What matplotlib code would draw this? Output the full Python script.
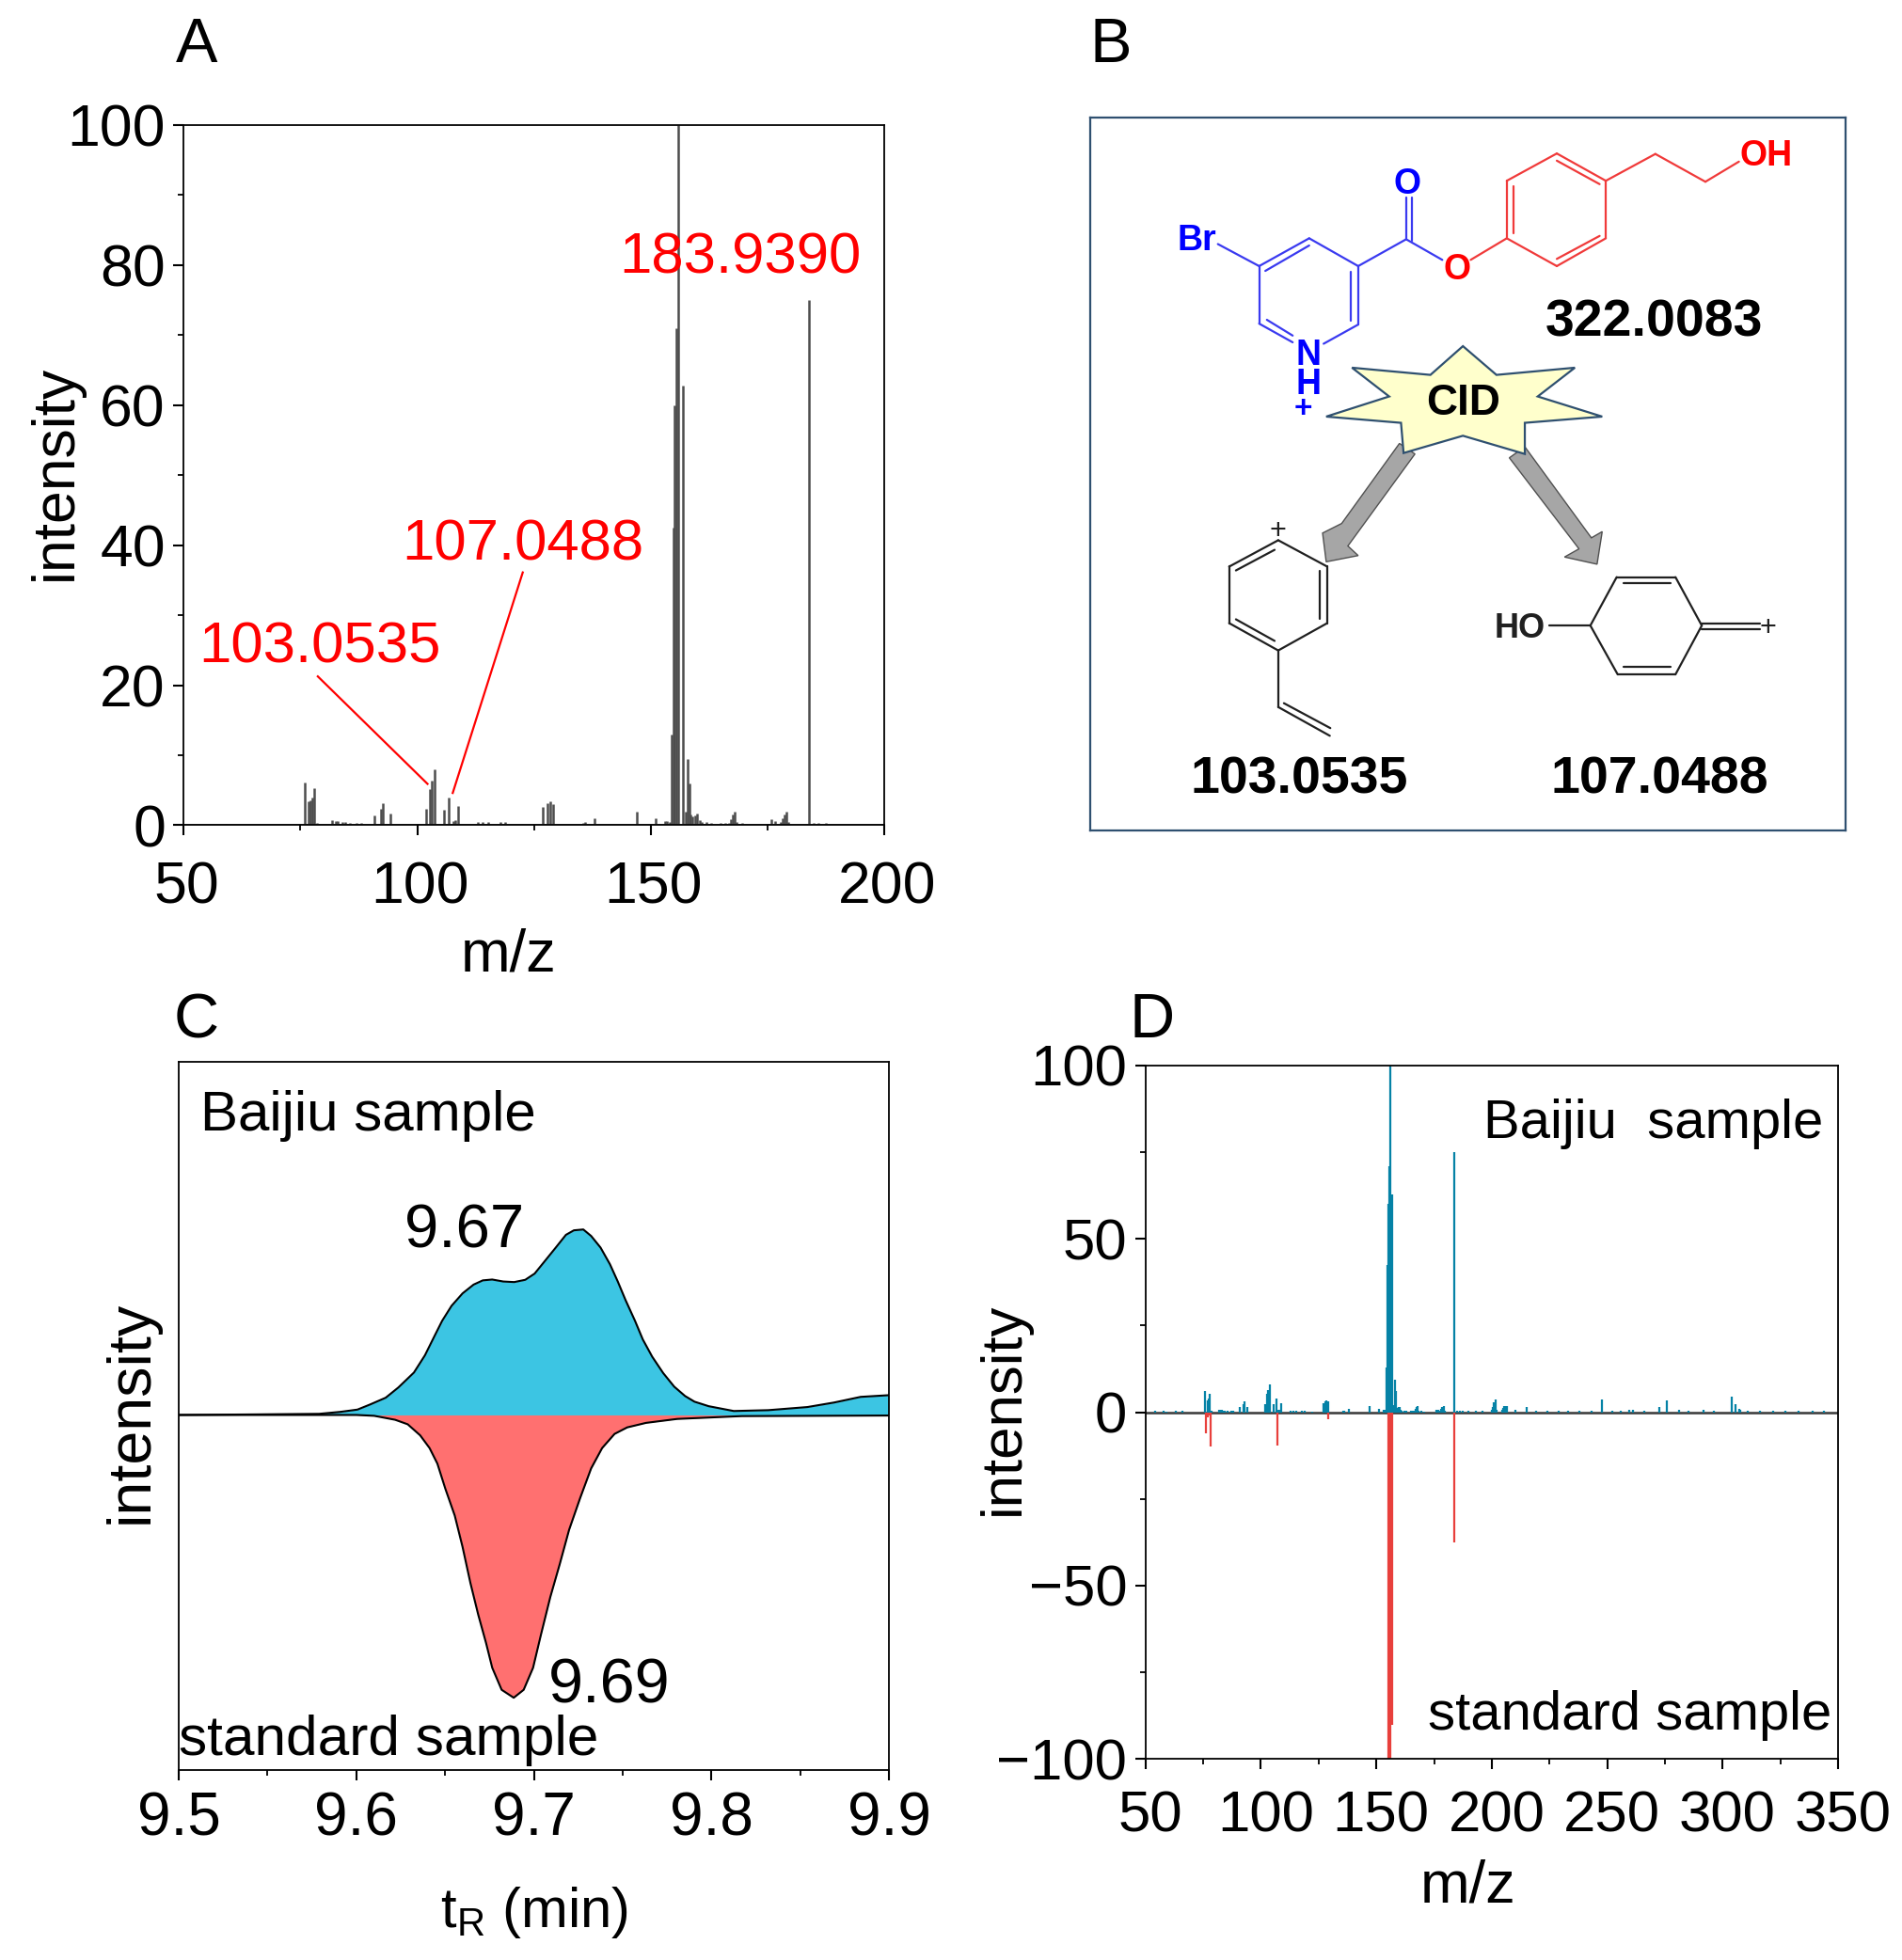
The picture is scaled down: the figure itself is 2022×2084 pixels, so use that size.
import matplotlib
matplotlib.use("Agg")
import matplotlib.pyplot as plt
from matplotlib.patches import Polygon
from matplotlib.ticker import FixedLocator
from matplotlib.transforms import ScaledTranslation

plt.rcParams["font.family"] = ["Liberation Sans", "DejaVu Sans"]
plt.rcParams["mathtext.fontset"] = "custom"
plt.rcParams["mathtext.rm"] = "Liberation Sans"
plt.rcParams["axes.linewidth"] = 1.3

# Spectrum of the Baijiu sample (m/z, relative intensity)
mz_low = [59, 75.95, 76.8, 77.2, 77.6, 77.9, 78.6, 81.8, 82.6, 83, 84, 84.5, 85.5, 87, 88,
          90.9, 92.3, 92.7, 94.2, 101.8, 102.8, 103.2, 103.8, 105.7, 106.8, 107.7, 108.2,
          108.8, 112.9, 114, 115.2, 117.8, 118.8, 122.4, 126.9, 127.9, 128.5, 129,
          135.5, 136, 138, 147.1, 151, 153, 153.5, 154]
int_low = [0.25, 6.1, 3.45, 3.5, 3.9, 5.3, 0.3, 0.7, 0.6, 0.6, 0.4, 0.4, 0.3, 0.3, 0.3,
           1.4, 2.4, 3.1, 1.6, 2.4, 5.2, 6.3, 8.0, 2.2, 4.0, 0.6, 0.7,
           2.7, 0.5, 0.4, 0.5, 0.4, 0.4, 0.2, 2.6, 3.1, 3.4, 3.0,
           0.3, 0.5, 1.0, 1.9, 1.0, 0.6, 0.6, 0.5]
mz_main = [154.5, 154.8, 155.1, 155.5, 155.9, 156.9, 157.6, 158.0, 158.3, 158.6, 159, 159.5,
           160, 160.5, 161, 162, 163, 165, 166]
int_main = [13, 42.5, 60, 71, 100, 62.8, 2, 9.4, 6, 1.5, 1.2, 1.4, 1.6, 0.7, 0.5, 0.4, 0.3, 0.3, 0.3]
mz_high = [166.8, 167.2, 167.6, 168, 168.3, 169.5, 170.5, 175.8, 176.6, 177.8, 178.2, 178.6,
           179.1, 179.5, 183.9, 185, 186, 187.5]
int_high = [0.3, 0.9, 1.5, 1.9, 0.5, 0.3, 0.2, 0.8, 0.6, 0.5, 1.0, 1.5, 1.9, 0.5, 75, 0.3, 0.3, 0.3]
mz_extra = [200, 200.5, 201, 201.8, 202.2, 204.5, 205, 205.5, 206, 206.7, 210, 215, 224, 247.5,
            259.5, 261, 272.6, 275.7, 281, 291.8, 303.7, 305.6, 307, 307.7]
int_extra = [0.8, 1.5, 2.8, 3.6, 0.6, 0.8, 1.2, 1.7, 1.9, 1.9, 0.6, 1.4, 0.5, 3.7,
             0.6, 0.6, 1.5, 3.3, 0.6, 0.6, 4.5, 2.2, 1.0, 0.8]
# small flecks along the baseline of panel D
mz_flecks = [54, 58, 63, 66, 190, 193, 196, 219, 229, 233, 238, 243, 252, 256, 266, 285, 296,
             311, 316, 322, 327, 333, 339, 344]
int_flecks = [0.3, 0.4, 0.3, 0.3, 0.3, 0.3, 0.4, 0.3, 0.3, 0.4, 0.3, 0.3, 0.3, 0.4, 0.3, 0.4, 0.3,
              0.3, 0.3, 0.4, 0.3, 0.3, 0.3, 0.3]

# Spectrum of the standard sample
mz_std = [76, 77, 77.5, 78.3, 107, 129, 155.1, 155.5, 155.9, 156.3, 156.9, 183.9]
int_std = [-6, -1.5, -1, -10, -9.6, -2, -100, -100, -100, -90, -90, -37.5]

# Chromatograms (panel C)
tr_baijiu = [9.5, 9.543, 9.579, 9.591, 9.6006, 9.6077, 9.6165, 9.6236, 9.6324, 9.6386, 9.6439, 9.6483,
             9.6536, 9.6598, 9.666, 9.6712, 9.6765, 9.6827, 9.6889, 9.6951, 9.7004, 9.7057, 9.7119,
             9.718, 9.7225, 9.7278, 9.7322, 9.7375, 9.7428, 9.7472, 9.7516, 9.7569, 9.7613, 9.7666,
             9.7728, 9.779, 9.7851, 9.7904, 9.7984, 9.8125, 9.832, 9.854, 9.869, 9.884, 9.9]
eic_baijiu = [0, 0.2, 0.4, 1.1, 1.9, 3.7, 6.1, 9.7, 15, 21.1, 27.8, 33.3,
              38.6, 43, 46.1, 47.6, 47.9, 47.2, 47, 47.8, 50, 54.1, 58.9,
              63.7, 65.3, 65.6, 63.3, 59.2, 53.3, 47.2, 40.6, 33.3, 26.7, 20.6,
              14.8, 10, 6.7, 4.7, 3.1, 1.4, 1.7, 2.8, 4.4, 6.4, 7]
tr_std = [9.5, 9.6, 9.61, 9.6218, 9.6289, 9.6359, 9.6412, 9.6456, 9.6501, 9.6554, 9.6598, 9.6642,
          9.6686, 9.673, 9.6765, 9.6818, 9.6886, 9.6942, 9.6995, 9.7039, 9.7092, 9.7145, 9.7198,
          9.726, 9.7322, 9.7384, 9.7454, 9.7525, 9.7631, 9.7807, 9.817, 9.9]
eic_std = [0, 0, -0.3, -1.7, -3.3, -7.2, -11.7, -17.2, -26.1, -35.6, -46.7, -59.4,
           -70.6, -80.6, -89.4, -97.2, -100, -97.2, -89.4, -77.8, -64.4, -52.8, -40.6,
           -29.4, -18.9, -11.7, -6.7, -4.4, -2.8, -1.4, -0.4, -0.2]

W, H = 2022, 2084
SCALE = W / 1521  # positions below were read on a 1521 px wide view
TICK = 45
GREY = "#4d4d4d"
TEAL = "#0582a6"
RED_BAR = "#e8403c"
BOX = "#2f5070"

fig = plt.figure(figsize=(W / 100, H / 100), dpi=100)


def panel(left, right, top, bottom, **kw):
    return fig.add_axes([left * SCALE / W, 1 - bottom * SCALE / H,
                         (right - left) * SCALE / W, (bottom - top) * SCALE / H], **kw)


def put(x, y, s, **kw):
    kw.setdefault("fontsize", TICK)
    kw.setdefault("ha", "center")
    kw.setdefault("va", "center")
    return fig.text(x * SCALE / W, 1 - y * SCALE / H, s, **kw)


def style(ax, size=TICK):
    ax.tick_params(which="major", length=8, width=1.5, labelsize=size, pad=6)
    ax.tick_params(which="minor", length=4.5, width=1.3)


def nudge_xlabels(ax, px):
    # the reference has its x tick labels a little right of the ticks
    shift = ScaledTranslation(px / 100, 0, fig.dpi_scale_trans)
    for label in ax.get_xticklabels():
        label.set_transform(label.get_transform() + shift)


# A
ax_a = panel(147, 707, 100, 660)
ax_a.axhline(0, color=GREY, lw=1.8, zorder=1)
ax_a.vlines(mz_low + mz_main + mz_high, 0, int_low + int_main + int_high, color=GREY, lw=1.8)
ax_a.set_xlim(50, 200)
ax_a.set_ylim(0, 100)
ax_a.set_xticks([50, 100, 150, 200])
ax_a.xaxis.set_minor_locator(FixedLocator([75, 125, 175]))
ax_a.set_yticks(range(0, 101, 20))
ax_a.yaxis.set_minor_locator(FixedLocator(range(10, 100, 20)))
style(ax_a)
ax_a.tick_params(axis="x", pad=19)
nudge_xlabels(ax_a, 3)
ax_a.plot([78.7, 102.2], [21.25, 5.9], color="red", lw=1.6)
ax_a.plot([122.6, 107.6], [36.1, 4.6], color="red", lw=1.6)
ax_a.text(169.2, 78.8, "183.9390", color="red", fontsize=44.5, ha="center", va="baseline")
ax_a.text(122.6, 37.9, "107.0488", color="red", fontsize=44.5, ha="center", va="baseline")
ax_a.text(79.2, 23.2, "103.0535", color="red", fontsize=44.5, ha="center", va="baseline")
put(45, 378, "intensity", rotation=90)
put(407, 764, "m/z", fontsize=45.5)

# C
ax_c = panel(143, 711, 849, 1416)
ax_c.fill_between(tr_baijiu, eic_baijiu, 0, color="#3cc5e3", lw=0)
ax_c.fill_between(tr_std, eic_std, 0, color="#ff7070", lw=0)
ax_c.plot(tr_baijiu, eic_baijiu, color="black", lw=1.5)
ax_c.plot(tr_std, eic_std, color="black", lw=1.5)
ax_c.set_xlim(9.5, 9.9)
ax_c.set_ylim(-125.7, 125)
ax_c.set_xticks([9.5, 9.6, 9.7, 9.8, 9.9])
ax_c.xaxis.set_minor_locator(FixedLocator([9.55, 9.65, 9.75, 9.85]))
ax_c.set_yticks([])
style(ax_c, 46)
ax_c.tick_params(axis="x", pad=8)
put(160, 904, "Baijiu sample", ha="left", va="baseline", fontsize=43.3)
put(371, 998, "9.67", va="baseline", fontsize=47)
put(487, 1362, "9.69", va="baseline", fontsize=48)
put(143, 1404, "standard sample", ha="left", va="baseline", fontsize=43.5)
put(105, 1129, "intensity", rotation=90, fontsize=46.5)
put(427, 1530, r"t$_{\mathrm{R}}$ (min)", fontsize=43)

# D
ax_d = panel(916, 1470, 852, 1407)
ax_d.axhline(0, color="#404040", lw=1.9, zorder=1)
ax_d.vlines(mz_std, 0, int_std, color=RED_BAR, lw=1.6)
ax_d.vlines(mz_low + mz_main + mz_high + mz_extra + mz_flecks, 0,
            int_low + int_main + int_high + int_extra + int_flecks, color=TEAL, lw=1.6)
ax_d.set_xlim(50, 350)
ax_d.set_ylim(-100, 100)
ax_d.set_xticks(range(50, 351, 50))
ax_d.xaxis.set_minor_locator(FixedLocator(range(75, 350, 50)))
ax_d.set_yticks([-100, -50, 0, 50, 100])
ax_d.yaxis.set_minor_locator(FixedLocator([-75, -25, 25, 75]))
style(ax_d)
ax_d.tick_params(axis="x", pad=16)
ax_d.tick_params(axis="both", labelsize=44.5)
nudge_xlabels(ax_d, 5)
put(1458, 910, "Baijiu  sample", ha="right", va="baseline", fontsize=41.8)
put(1465, 1383, "standard sample", ha="right", va="baseline", fontsize=41.8)
put(803, 1127, "intensity", rotation=90, fontsize=44.5)
put(1174, 1509, "m/z", fontsize=45.5)

# B, drawn in its own coordinates
ax_b = panel(872, 1476, 94, 664)
ax_b.set_xlim(53, 1517)
ax_b.set_ylim(1535, 48)
ax_b.set_xticks([])
ax_b.set_yticks([])
for spine in ax_b.spines.values():
    spine.set_color(BOX)
    spine.set_linewidth(1.6)

blue_bonds = [[(300, 312), (380, 358)], [(380, 358), (477, 300)], [(392, 368), (477, 315)],
              [(477, 300), (572, 358)], [(572, 358), (572, 480)], [(558, 370), (558, 472)],
              [(572, 480), (505, 520)], [(380, 358), (380, 478)], [(380, 478), (445, 517)],
              [(395, 470), (445, 503)], [(572, 358), (665, 302)], [(665, 302), (665, 215)],
              [(677, 305), (677, 215)], [(665, 302), (735, 345)]]
red_bonds = [[(790, 345), (860, 300)], [(860, 300), (860, 180)], [(860, 180), (957, 123)],
             [(957, 123), (1052, 180)], [(1052, 180), (1052, 300)], [(1052, 300), (957, 358)],
             [(957, 358), (860, 300)], [(873, 290), (873, 192)], [(957, 138), (1040, 187)],
             [(957, 343), (1040, 295)], [(1052, 180), (1148, 124)], [(1148, 124), (1245, 182)],
             [(1245, 182), (1310, 140)]]
black_bonds = [[(417, 930), (512, 985)], [(512, 985), (512, 1103)], [(512, 1103), (417, 1160)],
               [(417, 1160), (322, 1103)], [(322, 1103), (322, 985)], [(322, 985), (417, 930)],
               [(335, 993), (410, 950)], [(497, 993), (497, 1095)], [(335, 1095), (410, 1140)],
               [(417, 1160), (417, 1278)], [(417, 1278), (517, 1338)], [(428, 1270), (518, 1322)],
               [(1022, 1108), (1073, 1007)], [(1073, 1007), (1187, 1007)], [(1187, 1007), (1238, 1108)],
               [(1238, 1108), (1187, 1210)], [(1187, 1210), (1075, 1210)], [(1075, 1210), (1022, 1108)],
               [(1087, 1020), (1178, 1020)], [(1087, 1195), (1178, 1195)], [(943, 1108), (1022, 1108)],
               [(1238, 1103), (1350, 1103)], [(1238, 1116), (1350, 1116)]]
for bonds, col in [(blue_bonds, "#3a3af0"), (red_bonds, "#f03a3a"), (black_bonds, "#202020")]:
    for (x0, y0), (x1, y1) in bonds:
        ax_b.plot([x0, x1], [y0, y1], color=col, lw=1.6, solid_capstyle="round")

arrow_left = [(652, 728), (540, 895), (503, 915), (510, 975), (572, 962), (552, 942), (682, 750)]
arrow_right = [(865, 758), (1000, 948), (972, 965), (1035, 980), (1045, 912), (1024, 925), (895, 735)]
star = [(775, 525), (840, 585), (992, 570), (920, 630), (1045, 672), (895, 685), (895, 750),
        (775, 712), (660, 748), (655, 685), (510, 672), (632, 630), (560, 570), (712, 585)]
for arrow in (arrow_left, arrow_right):
    ax_b.add_patch(Polygon(arrow, closed=True, fc="#a6a6a6", ec="#505050", lw=1))
ax_b.add_patch(Polygon(star, closed=True, fc="#ffffcc", ec=BOX, lw=1.6, zorder=3))

atom_labels = [(260, 305, "Br", "#0000ff", 27), (668, 188, "O", "#0000ff", 27), (763, 365, "O", "#ff0000", 27),
               (1362, 129, "OH", "#ff0000", 27), (475, 545, "N", "#0000ff", 27), (475, 606, "H", "#0000ff", 27),
               (465, 657, "+", "#0000ff", 24), (885, 1115, "HO", "#202020", 26)]
for x, y, s, col, size in atom_labels:
    ax_b.text(x, y, s, color=col, fontsize=size, fontweight="bold", ha="center", va="center", zorder=4)
ax_b.text(417, 912, "+", color="#202020", fontsize=22, ha="center", va="center")
ax_b.text(1367, 1113, "+", color="#202020", fontsize=22, ha="center", va="center")
for x, y, s in [(1145, 476, "322.0083"), (775, 645, "CID"), (458, 1430, "103.0535"), (1157, 1430, "107.0488")]:
    ax_b.text(x, y, s, color="black", fontsize=40 if s != "CID" else 33, fontweight="bold",
              ha="center", va="center", zorder=4)

for x, y, s in [(157, 37, "A"), (888, 37, "B"), (157, 817, "C"), (921, 817, "D")]:
    put(x, y, s, fontsize=48)

fig.savefig("out.png", dpi=100)
